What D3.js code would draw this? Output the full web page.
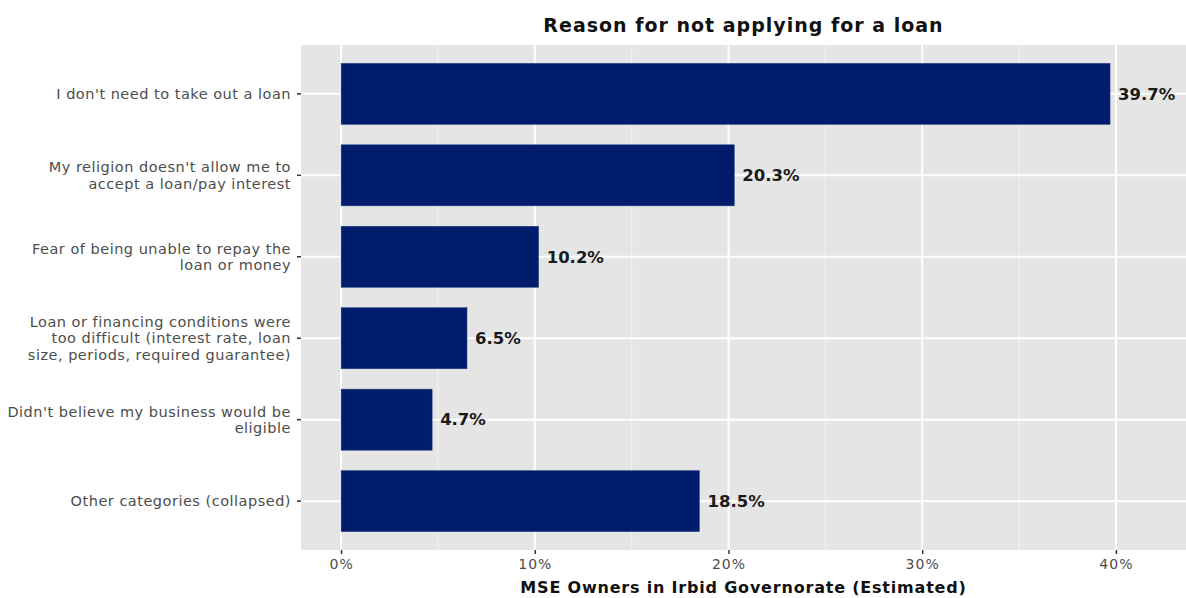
<!DOCTYPE html>
<html><head><meta charset="utf-8">
<script src="https://cdn.jsdelivr.net/npm/d3@7"></script>
<style>body{margin:0;background:#fff;font-family:"DejaVu Sans",sans-serif;}</style>
</head><body><svg id="c" width="1186" height="598" font-family="DejaVu Sans"></svg>
<script>
const categories = [
  ["I don't need to take out a loan"],
  ["My religion doesn't allow me to", "accept a loan/pay interest"],
  ["Fear of being unable to repay the", "loan or money"],
  ["Loan or financing conditions were", "too difficult (interest rate, loan", "size, periods, required guarantee)"],
  ["Didn't believe my business would be", "eligible"],
  ["Other categories (collapsed)"]
];
const values = [39.7, 20.3, 10.2, 6.5, 4.7, 18.5];
const xTicks = [0, 10, 20, 30, 40];
const xMinor = [5, 15, 25, 35];
const title = "Reason for not applying for a loan";
const xTitle = "MSE Owners in Irbid Governorate (Estimated)";

const svg = d3.select("#c");
const P = {l: 301, r: 1186, t: 45, b: 550};
const x = d3.scaleLinear().domain([-2.07, 43.62]).range([P.l, P.r]);
const ids = categories.map((d, i) => i);
const yOuter = d3.scaleLinear().domain([0.4, 6.6]).range([P.t, P.b]);
const y = d3.scaleBand().domain(ids).range([yOuter(0.5), yOuter(6.5)]).paddingInner(0.25).paddingOuter(0.125);

svg.append("rect").attr("x", P.l).attr("y", P.t).attr("width", P.r - P.l).attr("height", P.b - P.t).attr("fill", "#e5e5e5");
svg.selectAll(".gmin").data(xMinor).join("line")
  .attr("x1", d => x(d)).attr("x2", d => x(d)).attr("y1", P.t).attr("y2", P.b)
  .attr("stroke", "#f2f2f2").attr("stroke-width", 1);
svg.selectAll(".gmaj").data(xTicks).join("line")
  .attr("x1", d => x(d)).attr("x2", d => x(d)).attr("y1", P.t).attr("y2", P.b)
  .attr("stroke", "#fff").attr("stroke-width", 2);
svg.selectAll(".gy").data(ids).join("line")
  .attr("x1", P.l).attr("x2", P.r).attr("y1", d => y(d) + y.bandwidth() / 2).attr("y2", d => y(d) + y.bandwidth() / 2)
  .attr("stroke", "#fff").attr("stroke-width", 2);

svg.selectAll(".bar").data(ids).join("rect")
  .attr("x", x(0)).attr("y", d => y(d)).attr("width", d => x(values[d]) - x(0)).attr("height", y.bandwidth())
  .attr("fill", "#001c6b").attr("stroke", "#2a4a8a").attr("stroke-width", 0.5);

svg.selectAll(".vl").data(ids).join("text")
  .attr("x", d => x(values[d]) + 8).attr("y", d => y(d) + y.bandwidth() / 2).attr("dy", "0.35em")
  .attr("font-size", 16.5).attr("font-weight", 700).attr("fill", "#1a1a1a")
  .text(d => values[d].toFixed(1) + "%");

// x axis
const xa = svg.append("g").attr("transform", `translate(0,${P.b})`)
  .call(d3.axisBottom(x).tickValues(xTicks).tickFormat(d => d + "%").tickSize(4).tickPadding(5));
xa.select(".domain").remove();
xa.selectAll("line").attr("stroke", "#333").attr("stroke-width", 1.5);
xa.selectAll("text").attr("font-size", 14).attr("letter-spacing", 1).attr("fill", "#4d4d4d").attr("font-family", "DejaVu Sans");

// y axis
const ya = svg.append("g").attr("transform", `translate(${P.l},0)`);
ids.forEach(i => {
  const cy = y(i) + y.bandwidth() / 2;
  ya.append("line").attr("x1", -4).attr("x2", 0).attr("y1", cy).attr("y2", cy).attr("stroke", "#333").attr("stroke-width", 1.5);
  const lines = categories[i];
  const lh = 16.5;
  const t = ya.append("text").attr("text-anchor", "end").attr("font-size", 14.5).attr("letter-spacing", 0.5).attr("fill", "#4d4d4d");
  lines.forEach((ln, k) => {
    t.append("tspan").attr("x", -10).attr("y", cy + (k - (lines.length - 1) / 2) * lh).attr("dy", "0.35em").text(ln);
  });
});

svg.append("text").attr("x", (P.l + P.r) / 2).attr("y", 32).attr("text-anchor", "middle")
  .attr("font-size", 19).attr("font-weight", 700).attr("letter-spacing", 1).attr("fill", "#111").text(title);
svg.append("text").attr("x", (P.l + P.r) / 2).attr("y", 593).attr("text-anchor", "middle")
  .attr("font-size", 16).attr("font-weight", 700).attr("letter-spacing", 0.8).attr("fill", "#111").text(xTitle);
</script></body></html>
